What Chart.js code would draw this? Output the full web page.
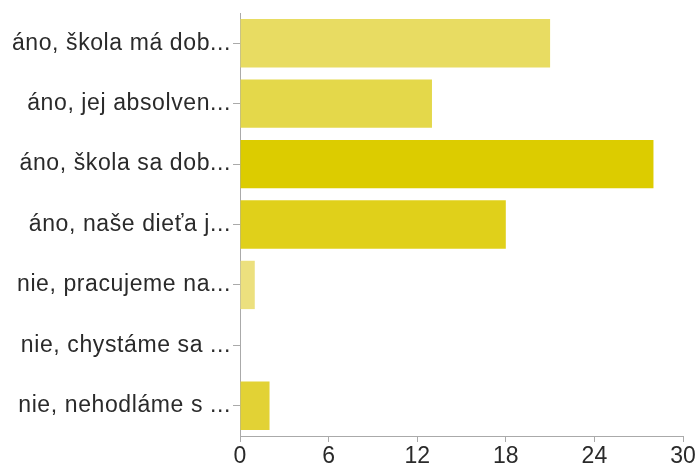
<!DOCTYPE html>
<html>
<head>
<meta charset="utf-8">
<script src="https://cdn.jsdelivr.net/npm/chart.js@4/dist/chart.umd.min.js"></script>
<style>
  html, body { margin: 0; padding: 0; background: #fff; }
  #wrap { width: 700px; height: 467px; }
</style>
</head>
<body>
<div id="wrap"><canvas id="c" width="700" height="467"></canvas></div>
<script>
const categories = [
  "áno, škola má dob...",
  "áno, jej absolven...",
  "áno, škola sa dob...",
  "áno, naše dieťa j...",
  "nie, pracujeme na...",
  "nie, chystáme sa ...",
  "nie, nehodláme s ..."
];
const values = [21, 13, 28, 18, 1, 0, 2];
const xTicks = [0, 6, 12, 18, 24, 30];
const barColors = ["#e8dc62", "#e4d84a", "#dccc00", "#e0d01a", "#ece07e", "#e6d850", "#e2d235"];

const FONT = "'Liberation Sans', Helvetica, Arial, sans-serif";

function spaced(px) {
  return (scale) => {
    if (!scale._spacedWrap) {
      const orig = scale.drawLabels.bind(scale);
      scale.drawLabels = (area) => {
        const ctx = scale.ctx;
        ctx.save();
        ctx.letterSpacing = px;
        orig(area);
        ctx.restore();
      };
      scale._spacedWrap = true;
    }
  };
}

new Chart(document.getElementById('c'), {
  type: 'bar',
  data: {
    labels: categories,
    datasets: [{
      data: values,
      backgroundColor: barColors,
      borderWidth: 0,
      barPercentage: 0.8,
      categoryPercentage: 1.0
    }]
  },
  options: {
    indexAxis: 'y',
    responsive: false,
    animation: false,
    layout: { padding: { top: 13, right: 17, bottom: 0, left: 0 } },
    plugins: { legend: { display: false }, tooltip: { enabled: false } },
    scales: {
      x: {
        min: 0, max: 30,
        afterBuildTicks: (scale) => { scale.ticks = xTicks.map(v => ({ value: v })); },
        afterFit: (scale) => { scale.height = 31; },
        grid: { drawOnChartArea: false, drawTicks: true, tickLength: 6, color: '#aaaaaa', lineWidth: 1 },
        border: { display: true, color: '#aaaaaa', width: 1 },
        ticks: { color: '#2a2a2a', font: { family: FONT, size: 23 }, padding: 1, maxRotation: 0 }
      },
      y: {
        afterFit: (scale) => { scale.width = 240; scale.paddingTop = 0; scale.paddingBottom = 0; spaced('0.6px')(scale); },
        grid: { offset: false, drawOnChartArea: false, drawTicks: true, tickLength: 7, color: '#aaaaaa', lineWidth: 1 },
        border: { display: true, color: '#aaaaaa', width: 1 },
        ticks: { color: '#2a2a2a', font: { family: FONT, size: 23 }, padding: 2, autoSkip: false }
      }
    }
  }
});
</script>
</body>
</html>
